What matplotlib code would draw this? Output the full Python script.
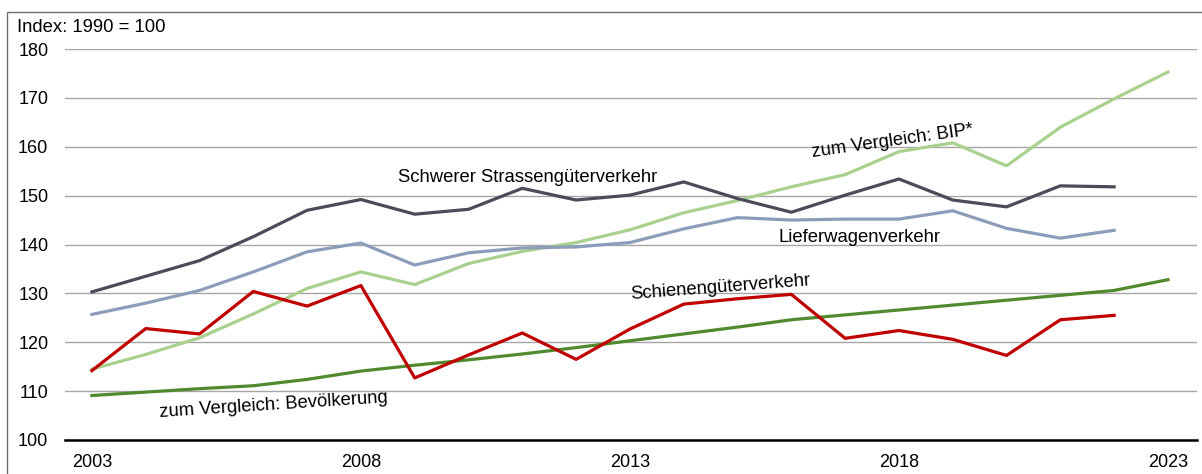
import matplotlib
matplotlib.use("Agg")
import matplotlib.pyplot as plt
from matplotlib.patches import Rectangle

plt.rcParams["font.family"] = ["Liberation Sans", "DejaVu Sans"]

years = list(range(2003, 2024))
tick_years = [2003, 2008, 2013, 2018, 2023]

schwer = [130.3, 133.5, 136.7, 141.6, 147.0, 149.2, 146.2, 147.2, 151.5, 149.1,
          150.1, 152.8, 149.4, 146.6, 150.1, 153.4, 149.1, 147.7, 152.0, 151.8]
liefer = [125.7, 128.0, 130.6, 134.4, 138.5, 140.3, 135.8, 138.3, 139.3, 139.5,
          140.4, 143.2, 145.5, 145.0, 145.2, 145.2, 146.9, 143.3, 141.3, 142.9]
schiene = [114.2, 122.8, 121.7, 130.4, 127.4, 131.6, 112.7, 117.4, 121.9, 116.5,
           122.7, 127.8, 128.9, 129.8, 120.8, 122.4, 120.6, 117.3, 124.6, 125.5]
bip = [114.5, 117.5, 120.9, 125.8, 131.0, 134.4, 131.8, 136.1, 138.6, 140.4,
       143.0, 146.5, 149.0, 151.8, 154.3, 159.0, 160.8, 156.1, 164.0, 169.8, 175.3]
bevoelkerung = [109.1, 109.8, 110.5, 111.1, 112.4, 114.1, 115.3, 116.4, 117.6, 118.9,
                120.3, 121.7, 123.1, 124.6, 125.6, 126.6, 127.6, 128.6, 129.6, 130.6, 132.8]

fig = plt.figure(figsize=(12.02, 4.74), dpi=100)
ax = fig.add_axes([65 / 1202, 1 - 440 / 474, (1197 - 65) / 1202, (440 - 49) / 474])

# outer frame of the graphic (top and left edges visible)
fig.patches.append(Rectangle((7 / 1202, -0.1), 1.2, 1 - 12 / 474 + 0.1,
                             transform=fig.transFigure, fill=False,
                             edgecolor="#707070", linewidth=1.0))

ax.plot(years, bevoelkerung, color="#4f8a2e", lw=2.3, zorder=3)
ax.plot(years, bip, color="#a9d18e", lw=2.3, zorder=3)
ax.plot(years[:20], liefer, color="#8c9dba", lw=2.3, zorder=4)
ax.plot(years[:20], schwer, color="#4a4c5a", lw=2.3, zorder=5)
ax.plot(years[:20], schiene, color="#c00000", lw=2.3, zorder=6)

ax.set_xlim(2002.5, 2023.54)
ax.set_ylim(100, 180)
ax.set_yticks(range(100, 181, 10))
ax.set_xticks(tick_years)
ax.grid(axis="y", color="#a6a6a6", lw=1.0)
ax.set_axisbelow(True)
for side in ["top", "right", "left"]:
    ax.spines[side].set_visible(False)
ax.spines["bottom"].set_color("black")
ax.spines["bottom"].set_linewidth(1.8)
ax.spines["bottom"].set_zorder(7)
ax.tick_params(axis="both", length=0, labelsize=13, colors="black")
ax.tick_params(axis="y", pad=12)
ax.tick_params(axis="x", pad=10)

fig.text(17 / 1202, 1 - 32 / 474, "Index: 1990 = 100", fontsize=13.3, va="baseline", ha="left")

lbl = dict(fontsize=13.3, ha="center", va="baseline", rotation_mode="anchor")
ax.text(2011.09, 152.8, "Schwerer Strassengüterverkehr", **lbl)
ax.text(2017.27, 140.5, "Lieferwagenverkehr", **lbl)
ax.text(2017.89, 160.3, "zum Vergleich: BIP*", rotation=8, **lbl)
ax.text(2014.69, 130.3, "Schienengüterverkehr", rotation=4.4, **lbl)
ax.text(2006.38, 106.2, "zum Vergleich: Bevölkerung", rotation=3.7, **lbl)

fig.savefig("out.png", dpi=100)
